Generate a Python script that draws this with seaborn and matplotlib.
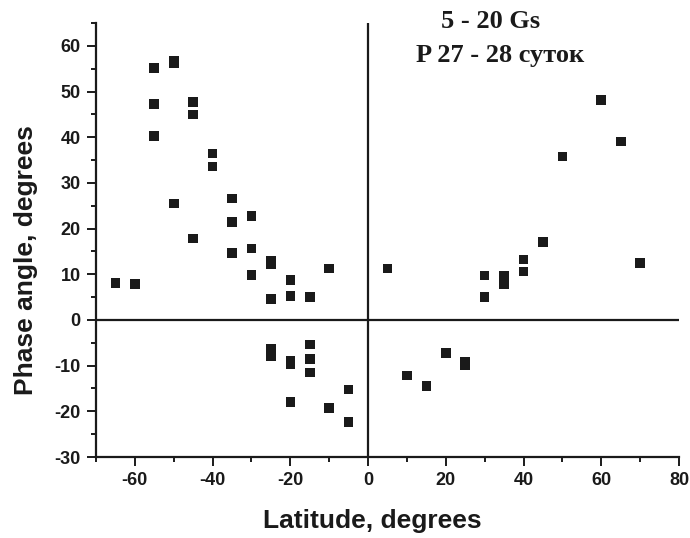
import seaborn as sns
import matplotlib.pyplot as plt
import pandas as pd
from matplotlib.ticker import MultipleLocator

# latitude (degrees) and phase angle (degrees)
latitude = [-65, -60, -55, -55, -55, -50, -50, -50, -45, -45, -45, -40, -40,
            -35, -35, -35, -30, -30, -30, -25, -25, -25, -20, -20, -15, -10,
            -25, -25, -20, -20, -20, -15, -15, -15, -10, -5, -5,
            5, 10, 15, 20, 25, 25, 30, 30, 35, 35, 40, 40, 45, 50, 60, 65, 70]
phase = [8.1, 7.9, 55.2, 47.3, 40.3, 56.8, 56.2, 25.5, 47.7, 45.0, 17.8, 36.4, 33.6,
         26.6, 21.4, 14.7, 22.7, 15.6, 9.9, 13.0, 12.3, 4.6, 8.8, 5.3, 5.0, 11.3,
         -6.4, -8.0, -9.0, -9.6, -18.0, -5.4, -8.5, -11.5, -19.3, -15.2, -22.3,
         11.3, -12.2, -14.4, -7.2, -9.2, -9.8, 9.7, 5.0, 9.6, 7.9, 13.2, 10.6, 17.0,
         35.8, 48.1, 39.1, 12.4]

title_lines = ['5 - 20 Gs', 'P 27 - 28 суток']

df = pd.DataFrame({'lat': latitude, 'phase': phase})

sns.set_style('ticks')
plt.rcParams['font.family'] = ['Liberation Sans', 'DejaVu Sans']
plt.rcParams['axes.unicode_minus'] = False

ink = '#1a1a1a'
W, H = 690, 538

fig = plt.figure(figsize=(6.9, 5.38), dpi=100)
ax = fig.add_axes([96 / W, 1 - 457 / H, 583 / W, 434 / H])

sns.scatterplot(data=df, x='lat', y='phase', marker='s', s=48, color=ink,
                edgecolor='none', ax=ax, zorder=3)

ax.axhline(0, color=ink, lw=1.6, zorder=2)
ax.axvline(0, color=ink, lw=1.6, zorder=2)

ax.set_xlim(-70, 80)
ax.set_ylim(-30, 65)
ax.xaxis.set_minor_locator(MultipleLocator(10))
ax.yaxis.set_major_locator(MultipleLocator(10))
ax.yaxis.set_minor_locator(MultipleLocator(5))
ax.set_xticks(range(-60, 81, 20))
ax.set_yticks(range(-30, 61, 10))
ax.tick_params(which='major', length=6.5, width=1.4, color=ink, labelsize=13, pad=4.5)
ax.tick_params(which='minor', length=3.5, width=1.4, color=ink)
for lbl in ax.get_xticklabels() + ax.get_yticklabels():
    lbl.set_fontweight('bold')
    lbl.set_color(ink)

sns.despine(ax=ax)
for side in ['left', 'bottom']:
    ax.spines[side].set_linewidth(1.6)
    ax.spines[side].set_color(ink)

ax.set_xlabel('')
ax.set_ylabel('')
fig.text(372 / W, 1 - 528 / H, 'Latitude, degrees', ha='center', va='baseline',
         fontsize=19, fontweight='bold', color=ink)
fig.text(26 / W, 1 - 260 / H, 'Phase angle, degrees', ha='center', va='center',
         rotation=90, fontsize=19, fontweight='bold', color=ink)

serif = ['Liberation Serif', 'DejaVu Serif']
fig.text(491 / W, 1 - 28 / H, title_lines[0], ha='center', va='baseline',
         fontsize=19, fontweight='bold', family=serif, color=ink)
fig.text(500 / W, 1 - 62 / H, title_lines[1], ha='center', va='baseline',
         fontsize=19, fontweight='bold', family=serif, color=ink)

plt.savefig('out.png', dpi=100)
